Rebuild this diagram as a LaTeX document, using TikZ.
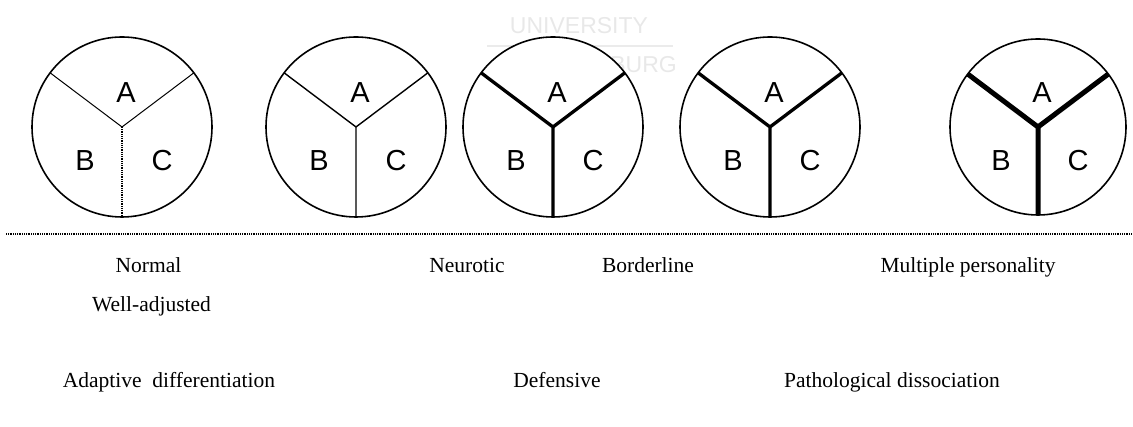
\documentclass[tikz,border=0pt]{standalone}
\usepackage{fontspec}
\setmainfont{Liberation Serif}
\newfontfamily\arialfont{Liberation Sans}
\begin{document}
\begin{tikzpicture}[x=1pt,y=1pt,
  disc/.style={circle,draw,line width=1.6pt,fill=white,minimum size=180pt,inner sep=0pt,outer sep=0pt},
  part/.style={font=\arialfont\fontsize{29}{29}\selectfont,inner sep=0pt},
  caption/.style={font=\fontsize{21.5}{24}\selectfont,anchor=base,inner sep=0pt},
  stamp/.style={text=black!9,font=\arialfont\fontsize{23}{23}\selectfont,inner sep=0pt},
  dotline/.style={line width=1.3pt,dash pattern=on 1pt off 0.8pt},
]
\useasboundingbox (0,0) rectangle (1133,427);

% faint stamp behind the discs
\node[stamp] (wm1) at (579,401) {UNIVERSITY};
\coordinate (wmL) at (487,381);
\coordinate (wmR) at (673,381);
\draw[black!8,line width=1.5pt] (wmL) -- (wmR);
\node[stamp,anchor=east] (wm2) at (677,362.5) {BURG};

% the five discs
\node[disc] (c1) at (122,300) {};
\node[disc] (c2) at (356,300) {};
\node[disc] (c3) at (553,300) {};
\node[disc] (c4) at (770,300) {};
\node[disc,minimum size=176pt] (c5) at (1038,300) {};

% partition walls
\draw[line width=1pt] (c1.143) -- (c1.center) -- (c1.37);
\draw[dotline] (c1.center) -- (c1.-90);

\draw[line width=1.4pt] (c2.143) -- (c2.center) -- (c2.-90);
\draw[line width=1.4pt] (c2.center) -- (c2.37);

\draw[line width=3.3pt] (c3.143) -- (c3.center) -- (c3.-90);
\draw[line width=3.3pt] (c3.center) -- (c3.37);

\draw[line width=3.3pt] (c4.143) -- (c4.center) -- (c4.-90);
\draw[line width=3.3pt] (c4.center) -- (c4.37);

\draw[line width=5pt] (c5.143) -- (c5.center) -- (c5.-90);
\draw[line width=5pt] (c5.center) -- (c5.37);

% part labels
\foreach \c in {c1,c2,c3,c4,c5}{
  \node[part] (\c a) at ([shift={(4,34)}]\c.center) {A};
  \node[part] (\c b) at ([shift={(-37,-34)}]\c.center) {B};
  \node[part] (\c c) at ([shift={(40,-34)}]\c.center) {C};
}

% baseline separating the discs from the captions
\coordinate (axL) at (6,193);
\coordinate (axR) at (1133,193);
\draw[dotline] (axL) -- (axR);

% captions
\node[caption] (t1) at (148.5,154) {Normal};
\node[caption] (t2) at (151.5,115) {Well-adjusted};
\node[caption] (t3) at (467,154) {Neurotic};
\node[caption] (t4) at (648,154) {Borderline};
\node[caption] (t5) at (968,154) {Multiple personality};
\node[caption] (t6) at (169,39) {Adaptive\ \ differentiation};
\node[caption] (t7) at (557,39) {Defensive};
\node[caption] (t8) at (892,39) {Pathological dissociation};
\end{tikzpicture}
\end{document}
